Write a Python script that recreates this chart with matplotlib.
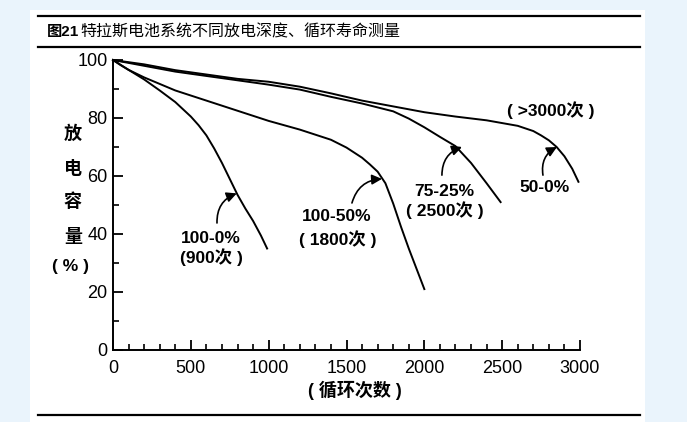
import matplotlib
matplotlib.use('Agg')
import matplotlib.pyplot as plt
from matplotlib.patches import Rectangle
from matplotlib.lines import Line2D

# curves (cycles, capacity %)
x_100_0 = [0, 50, 100, 200, 300, 400, 500, 550, 600, 650, 700, 750, 800, 850, 900, 950, 990]
y_100_0 = [100, 98.3, 96.6, 93.3, 89.5, 85.5, 80.5, 77.5, 74, 69.5, 64.5, 59, 53.5, 48.8, 44.5, 39.5, 35]

x_100_50 = [0, 50, 100, 200, 400, 600, 800, 1000, 1200, 1400, 1500, 1600, 1650, 1700, 1750,
            1800, 1850, 1900, 1950, 2000]
y_100_50 = [100, 98.2, 96.6, 94, 89.5, 86, 82.5, 79, 76, 72.5, 69.8, 66.3, 64, 61.5, 57.5,
            50.5, 42.5, 35, 28, 21]

x_75_25 = [0, 200, 400, 600, 800, 1000, 1200, 1400, 1600, 1800, 1900, 2000, 2100, 2200, 2300, 2400, 2490]
y_75_25 = [100, 98, 96, 94.5, 93, 91.5, 89.8, 87.3, 85, 82.3, 79.8, 76.8, 73.5, 70.3, 64.5, 57.5, 51]

x_50_0 = [0, 200, 400, 600, 800, 1000, 1200, 1400, 1600, 1800, 2000, 2200, 2400, 2600, 2700,
          2750, 2800, 2850, 2900, 2950, 2990]
y_50_0 = [100, 98.5, 96.5, 95, 93.5, 92.5, 90.8, 88.5, 86, 84, 82, 80.5, 79.2, 77.3, 75.5,
          74, 72.3, 70, 66.8, 62.5, 58]

x_ticks = [0, 500, 1000, 1500, 2000, 2500, 3000]
y_ticks = [0, 20, 40, 60, 80, 100]

cjk = ['Liberation Sans', 'Noto Sans CJK SC', 'DejaVu Sans']
plt.rcParams['font.family'] = cjk

W, H = 687, 422
fig = plt.figure(figsize=(W / 100, H / 100), dpi=100)
fig.patch.set_facecolor('#eaf4fc')

# white page panel and rules
fig.add_artist(Rectangle((30 / W, 0), 615 / W, 1 - 10 / H, transform=fig.transFigure,
                         facecolor='white', edgecolor='none', zorder=0))
for yy in [16, 47, 415]:
    fig.add_artist(Line2D([38 / W, 640 / W], [1 - yy / H, 1 - yy / H],
                          transform=fig.transFigure, color='black', lw=1.6))

fig.text(47 / W, 1 - 32 / H, '图21', fontsize=11, fontweight='bold', va='center',
         family=['Liberation Sans', 'Noto Sans CJK SC'])
fig.text(80 / W, 1 - 32 / H, '特拉斯电池系统不同放电深度、循环寿命测量', fontsize=11.5,
         va='center', family=['Noto Sans CJK SC'])

ax = fig.add_axes([113 / W, 1 - 350 / H, 467 / W, 290 / H])
ax.set_facecolor('none')
ax.set_xlim(0, 3000)
ax.set_ylim(0, 100)

for xs, ys in [(x_100_0, y_100_0), (x_100_50, y_100_50), (x_75_25, y_75_25), (x_50_0, y_50_0)]:
    ax.plot(xs, ys, color='black', lw=1.4, clip_on=False, solid_joinstyle='round')

ax.spines['top'].set_visible(False)
ax.spines['right'].set_visible(False)
ax.spines['left'].set_linewidth(1.4)
ax.spines['bottom'].set_linewidth(1.4)

ax.set_xticks(x_ticks)
ax.set_yticks(y_ticks)
ax.set_xticks(range(0, 3001, 100), minor=True)
ax.set_yticks(range(0, 101, 10), minor=True)
ax.tick_params(which='major', direction='in', length=7, width=1.3, labelsize=13)
ax.tick_params(axis='x', which='major', pad=7)
ax.tick_params(axis='y', which='major', pad=4)
ax.tick_params(which='minor', direction='in', length=4, width=1.2)

# y label stacked vertically
for ch, py in zip(['放', '电', '容', '量'], [133, 168, 202, 236]):
    fig.text(73 / W, 1 - py / H, ch, fontsize=13, fontweight='bold', ha='center', va='center',
             family=['Noto Sans CJK SC'])
fig.text(71 / W, 1 - 267 / H, '( % )', fontsize=12.5, fontweight='bold', ha='center',
         va='center', family=cjk)
fig.text(355 / W, 1 - 390 / H, '( 循环次数 )', fontsize=13, fontweight='bold', ha='center',
         va='center', family=cjk)

lab_kw = dict(fontsize=12.5, fontweight='bold', ha='center', va='center', family=cjk)
ax.text(630, 38.3, '100-0%', **lab_kw)
ax.text(630, 32, '(900次 )', **lab_kw)
ax.text(1439, 45.9, '100-50%', **lab_kw)
ax.text(1445, 38.3, '( 1800次 )', **lab_kw)
ax.text(2126, 54.5, '75-25%', **lab_kw)
ax.text(2133, 48.3, '( 2500次 )', **lab_kw)
ax.text(2775, 55.9, '50-0%', **lab_kw)
ax.text(2815, 82.8, '( >3000次 )', **lab_kw)

arrow_kw = dict(arrowstyle='-|>,head_length=0.6,head_width=0.3', color='black', lw=1.2,
                connectionstyle='arc3,rad=-0.35', shrinkA=0, shrinkB=0)
for tail, head in [((668, 43.8), (795, 54)), ((1535, 50.7), (1728, 59)),
                   ((2113, 60.3), (2242, 70)), ((2762, 60.3), (2852, 70))]:
    ax.annotate('', xy=head, xytext=tail, arrowprops=arrow_kw)

fig.savefig('out.png', dpi=100, facecolor=fig.get_facecolor())
